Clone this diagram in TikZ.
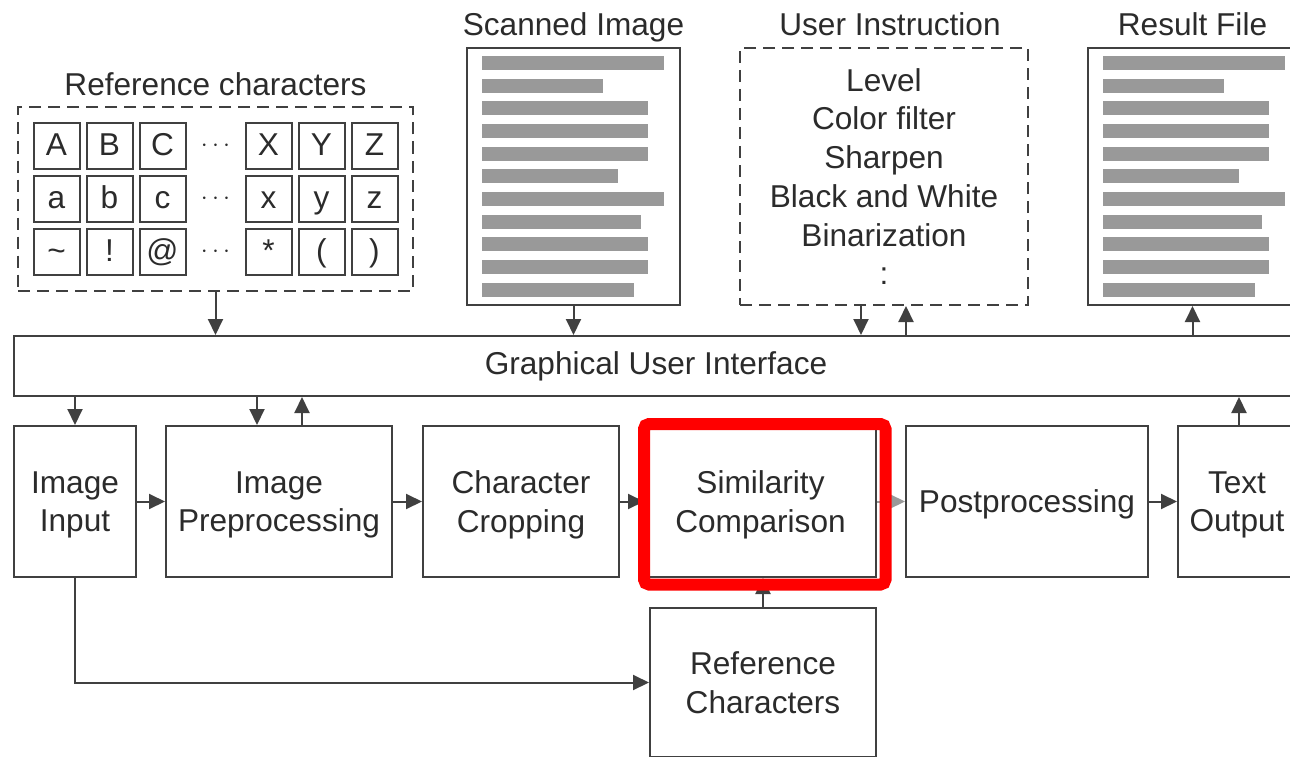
\documentclass[tikz,border=0pt]{standalone}
\usepackage{fontspec}
\setmainfont{Liberation Sans}
\usetikzlibrary{arrows.meta, positioning, fit, backgrounds}

\definecolor{linegray}{HTML}{404040}
\definecolor{textgray}{HTML}{2B2B2B}
\definecolor{bargray}{HTML}{999999}
\newcommand\diafont{\fontsize{31.6}{38.7}\selectfont}
\newcommand\barlens{182,121,166,166,166,136,182,159,166,166,152}

\begin{document}
\begin{tikzpicture}[x=1pt, y=-1pt, font=\diafont, text=textgray,
                block/.style={draw=linegray, line width=2pt, minimum height=151pt,
                              align=center, inner sep=0pt, text depth=0pt},
                doc/.style={draw=linegray, line width=2pt, minimum height=257pt, inner sep=0pt},
                dashbox/.style={draw=linegray, line width=2pt, dash pattern=on 12pt off 7pt},
                cell/.style={draw=linegray, line width=2pt, minimum size=46pt, inner sep=0pt,
                             text height=18pt, text depth=0pt},
                title/.style={inner sep=0pt, text depth=0pt, label distance=11pt},
                arr/.style={draw=linegray, line width=2pt, -{Triangle[length=16pt, width=15pt]}},
                highlight/.style={draw=red, line width=12pt, rounded corners=5pt}]

                % frame of the picture
                \useasboundingbox (0,0) rectangle (1290,757);
                \clip (0,0) rectangle (1290,757);
                \begin{scope}[on background layer]
                    \fill[white] (0,0) rectangle (1290,757);
                \end{scope}

                % reference character table
                \foreach \chars [count=\ri] in {{A,B,C,X,Y,Z},{a,b,c,x,y,z},{\textasciitilde,!,@,*,{(},{)}}}{
                    \foreach \ch [count=\ci] in \chars
                        \node[cell] (ch-\ri-\ci) at ({56.5+53*(\ci-1)+53*(\ci>3)}, {146+53*(\ri-1)}) {\ch};
                    \node (dots-\ri) at (215.5, {146+53*(\ri-1)}) {$\cdots$};
                }
                \begin{scope}[on background layer]
                    \node[dashbox, fit={(ch-1-1) (ch-3-6)}, inner sep=14.5pt,
                          label={[title]above:Reference characters}] (refbox) {};
                \end{scope}

                % documents and user instruction
                \node[doc, minimum width=213pt, label={[title]above:Scanned Image}] (scan) at (573.5,176.5) {};
                \node[dashbox, minimum width=288pt, minimum height=257pt, align=center, inner sep=0pt,
                      label={[title, xshift=6pt]above:User Instruction}] (instr) at (884,176.5)
                      {Level\\Color filter\\Sharpen\\Black and White\\Binarization\\:};
                \node[doc, minimum width=209pt, label={[title]above:Result File}] (result) at (1192.5,176.5) {};

                % text lines on the documents
                \foreach \page in {scan, result}{
                    \begin{scope}[shift={(\page.north west)}]
                        \foreach \len [count=\i] in \barlens
                            \fill[bargray] (16,{9+22.65*(\i-1)}) rectangle ++(\len,14);
                    \end{scope}
                }

                % interface
                \node[block, minimum width=1284pt, minimum height=60pt, text depth=5pt] (gui) at (656,366)
                      {Graphical User Interface};

                % processing chain
                \node[block, minimum width=122pt] (input) at (75,501.5) {Image\\Input};
                \node[block, minimum width=226pt, right=28pt of input] (prep) {Image\\Preprocessing};
                \node[block, minimum width=196pt, right=29pt of prep] (crop) {Character\\Cropping};
                \node[block, minimum width=231pt, right=24pt of crop] (simil) {Similarity\\Comparison};
                \node[block, minimum width=242pt, right=28pt of simil] (post) {Postprocessing};
                \node[block, minimum width=118pt, right=28pt of post] (output) {Text\\Output};
                \node[block, minimum width=226pt, minimum height=149pt, below=29pt of simil,
                      xshift=2.5pt] (refc) {Reference\\Characters};

                % connections to the interface
                \draw[arr] (refbox.south) -- (refbox.south |- gui.north);
                \draw[arr] (scan.south) -- (scan.south |- gui.north);
                \draw[arr] ([xshift=-23pt]instr.south) -- ([xshift=-23pt]instr.south |- gui.north);
                \draw[arr] ([xshift=22pt]instr.south |- gui.north) -- ([xshift=22pt]instr.south);
                \draw[arr] (result.south |- gui.north) -- (result.south);
                \draw[arr] (input.north |- gui.south) -- (input.north);
                \draw[arr] ([xshift=-22pt]prep.north |- gui.south) -- ([xshift=-22pt]prep.north);
                \draw[arr] ([xshift=23pt]prep.north) -- ([xshift=23pt]prep.north |- gui.south);
                \draw[arr] ([xshift=2pt]output.north) -- ([xshift=2pt]output.north |- gui.south);

                % flow between the steps
                \draw[arr] (input) -- (prep);
                \draw[arr] (prep) -- (crop);
                \draw[arr] (crop) -- (simil);
                \draw[arr, draw=bargray] (simil) -- (post);
                \draw[arr] (post) -- (output);
                \draw[arr] (refc.north) -- (refc.north |- simil.south);
                \draw[arr] (input.south) |- (refc.west);

                % marked step
                \draw[highlight] ([yshift=1pt]simil.north west) rectangle ([xshift=8.5pt, yshift=-6.5pt]simil.south east);
\end{tikzpicture}
\end{document}
